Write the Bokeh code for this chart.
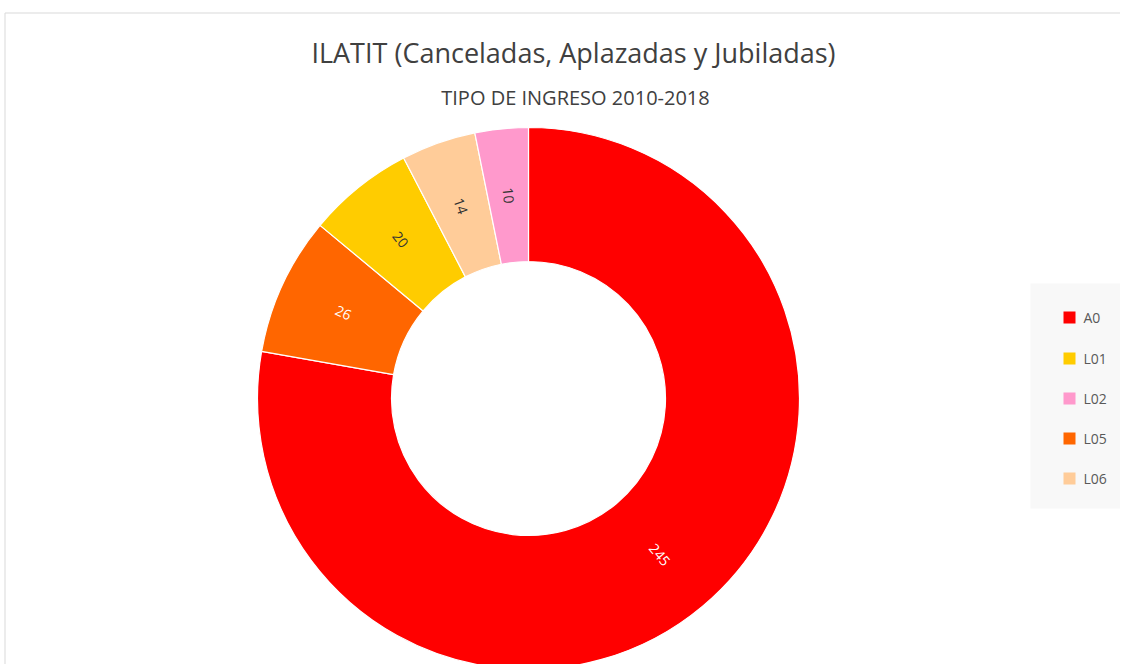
import numpy as np
from bokeh.plotting import figure
from bokeh.models import Range1d
from bokeh.core.properties import value
from bokeh.embed import file_html
from bokeh.resources import INLINE

# Data
categories = ["A0", "L05", "L01", "L06", "L02"]
counts = [245, 26, 20, 14, 10]
colors = ["#FF0000", "#FF6600", "#FFCC00", "#FFCC99", "#FF99CC"]
label_colors = ["#FFFFFF", "#FFFFFF", "#333333", "#333333", "#333333"]
legend_order = ["A0", "L01", "L02", "L05", "L06"]
title_text = "ILATIT (Canceladas, Aplazadas y Jubiladas)"
subtitle_text = "TIPO DE INGRESO 2010-2018"

W, H = 1120, 664
p = figure(width=W, height=H, output_backend="svg", toolbar_location=None,
           x_range=Range1d(0, W), y_range=Range1d(0, H), min_border=0)
p.axis.visible = False
p.grid.visible = False
p.outline_line_color = None
p.background_fill_color = "white"
p.border_fill_color = "white"

def sy(y):
    return H - y

# chart border
p.line(x=[4.5, 4.5, 1128], y=[sy(680), sy(12.5), sy(12.5)], line_color="#d9d9d9", line_width=1)

FONT = value("Open Sans")

# titles
p.text(x=[573], y=[sy(52)], text=[title_text], text_font=FONT, text_font_size="27px",
       text_color="#404040", text_align="center", text_baseline="middle")
p.text(x=[575], y=[sy(97)], text=[subtitle_text], text_font=FONT, text_font_size="20px",
       text_color="#404040", text_align="center", text_baseline="middle")

# donut
cx, cy = 528, sy(398)
r_out, r_in = 271, 137
total = float(sum(counts))
fr = np.array(counts) / total
cum = np.concatenate([[0], np.cumsum(fr)])
start = np.pi / 2 - cum[1:] * 2 * np.pi
end = np.pi / 2 - cum[:-1] * 2 * np.pi
p.annular_wedge(x=[cx] * len(counts), y=[cy] * len(counts), inner_radius=r_in, outer_radius=r_out,
                start_angle=list(start), end_angle=list(end), fill_color=colors,
                line_color="white", line_width=1.2)

mid = (start + end) / 2
rm = (r_in + r_out) / 2
lx = cx + rm * np.cos(mid)
ly = cy + rm * np.sin(mid)
ang = []
for a in mid:
    d = np.degrees(a)
    while d >= 90:
        d -= 180
    while d < -90:
        d += 180
    ang.append(np.radians(d))
p.text(x=list(lx), y=list(ly), text=[str(c) for c in counts], angle=ang,
       text_font=FONT, text_font_size="14px", text_color=label_colors,
       text_align="center", text_baseline="middle")

# legend
p.quad(left=[1030], right=[1128], top=[sy(283)], bottom=[sy(508)],
       fill_color="#f8f8f8", line_color=None)
leg_y = [317, 358, 398, 438, 478]
cmap = dict(zip(categories, colors))
p.rect(x=[1069] * 5, y=[sy(v) for v in leg_y], width=12, height=12,
       fill_color=[cmap[c] for c in legend_order], line_color=None)
p.text(x=[1083] * 5, y=[sy(v) for v in leg_y], text=legend_order, text_font=FONT,
       text_font_size="14px", text_color="#595959", text_align="left", text_baseline="middle")

open("out.html", "w").write(file_html(p, INLINE))
